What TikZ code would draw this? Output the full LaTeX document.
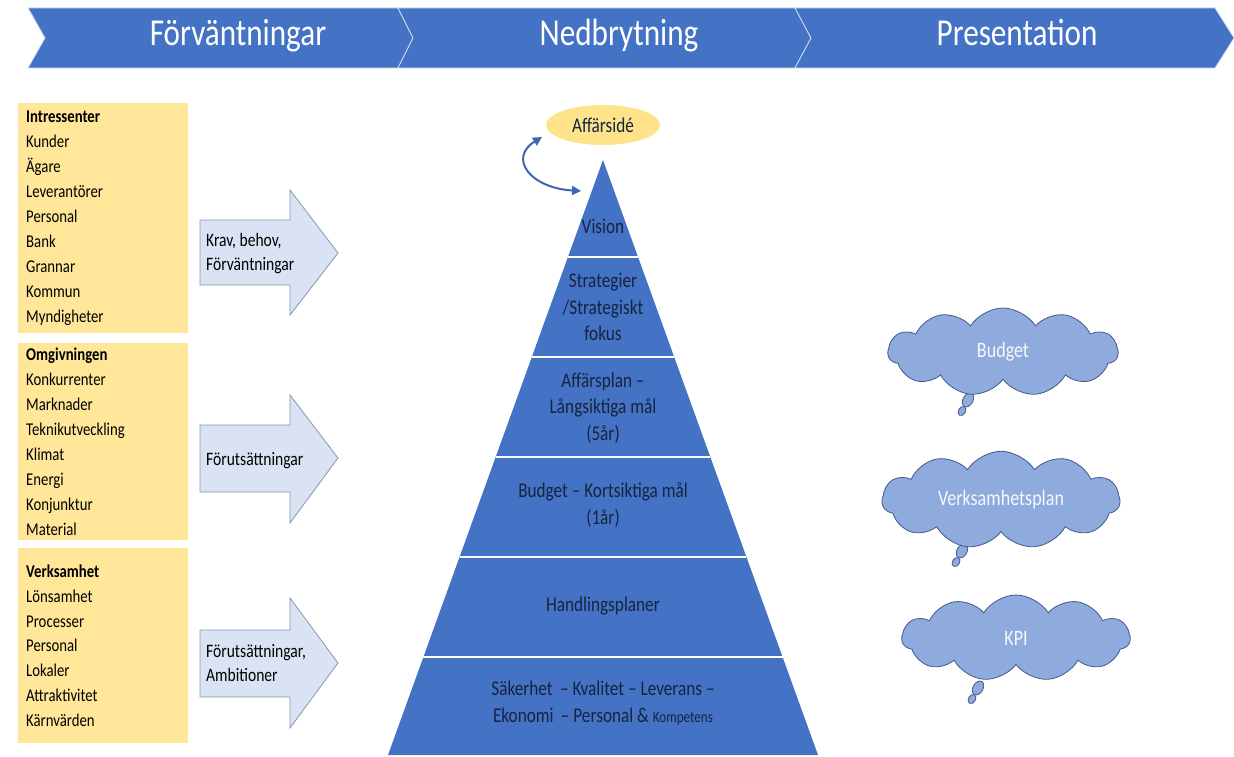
\documentclass[tikz,border=0pt]{standalone}
\usepackage{fontspec}
\setmainfont{Carlito}[FakeStretch=0.82]
\usetikzlibrary{shapes.geometric,shapes.symbols,arrows.meta}

\newlength{\du}
\setlength{\du}{1pt}

\definecolor{rubrikbla}{HTML}{4472C4}
\definecolor{listgul}{HTML}{FFE699}
\definecolor{idegul}{HTML}{FFE38A}
\definecolor{pilfyll}{HTML}{DAE3F3}
\definecolor{pilkant}{HTML}{8497B0}
\definecolor{lagertext}{HTML}{16243F}
\definecolor{molnfyll}{HTML}{8FAADC}
\definecolor{molnkant}{HTML}{41598B}

\tikzset{
  chevron/.style={fill=rubrikbla, draw=white!75!rubrikbla, line width=0.8\du},
  rubrik/.style={text=white, anchor=base, font=\fontsize{38}{40}\selectfont},
  lista/.style={fill=listgul, text width=154\du, align=left, inner xsep=8\du,
    inner ysep=0pt, minimum width=170\du, font=\fontsize{18}{24.9}\selectfont},
  pil/.style={fill=pilfyll, draw=pilkant, line width=0.8\du},
  piltext/.style={anchor=west, align=left, inner sep=0pt,
    font=\fontsize{19}{24}\selectfont},
  lager/.style={text=lagertext, align=center, inner sep=0pt,
    font=\fontsize{21}{26.5}\selectfont},
  moln/.style={cloud, cloud puffs=11, cloud puff arc=115, aspect=2.5,
    inner sep=1\du, fill=molnfyll, draw=molnkant,
    line width=0.8\du, text=white!92!molnfyll, font=\fontsize{22}{26}\selectfont},
  bubbla/.style={ellipse, fill=molnfyll, draw=molnkant, line width=0.8\du,
    inner sep=0pt, rotate=60},
  bage/.style={draw=rubrikbla!90!black, line width=2\du,
    {Triangle[length=9pt,width=9pt]}-{Triangle[length=9pt,width=9pt]}}
}

\begin{document}
\begin{tikzpicture}[x=\du, y=-\du]
\useasboundingbox (0,0) rectangle (1234,757);

% rubrikband
\draw[chevron] (28,8) -- (398,8) -- (413,38) -- (398,68) -- (28,68) -- (45,38) -- cycle;
\draw[chevron] (398,8) -- (795,8) -- (811,38) -- (795,68) -- (398,68) -- (413,38) -- cycle;
\draw[chevron] (795,8) -- (1215,8) -- (1234,38) -- (1215,68) -- (795,68) -- (811,38) -- cycle;
\node[rubrik] (forv) at (238,46) {Förväntningar};
\node[rubrik] (nedbr) at (619,46) {Nedbrytning};
\node[rubrik] (pres) at (1017,46) {Presentation};

% listor
\node[lista, minimum height=230\du, anchor=north west] (intressenter) at (18,103)
  {\textbf{Intressenter}\\Kunder\\Ägare\\Leverantörer\\Personal\\Bank\\Grannar\\Kommun\\Myndigheter};
\node[lista, minimum height=197\du, anchor=north west] (omgivning) at (18,343)
  {\textbf{Omgivningen}\\Konkurrenter\\Marknader\\Teknikutveckling\\Klimat\\Energi\\Konjunktur\\Material};
\node[lista, minimum height=195\du, anchor=north west] (verksamhet) at (18,548)
  {\textbf{Verksamhet}\\Lönsamhet\\Processer\\Personal\\Lokaler\\Attraktivitet\\Kärnvärden};

% pilar
\draw[pil] (200,220) -- ++(90,0) -- ++(0,-30) -- ++(48,63) -- ++(-48,62) -- ++(0,-30) -- ++(-90,0) -- cycle;
\draw[pil] (200,425) -- ++(90,0) -- ++(0,-30) -- ++(48,63) -- ++(-48,65) -- ++(0,-31) -- ++(-90,0) -- cycle;
\draw[pil] (200,630) -- ++(90,0) -- ++(0,-32) -- ++(48,65) -- ++(-48,65) -- ++(0,-31) -- ++(-90,0) -- cycle;
\node[piltext] (krav) at (206,254) {Krav, behov,\\Förväntningar};
\node[piltext] (forut) at (206,461) {Förutsättningar};
\node[piltext] (ambit) at (206,663) {Förutsättningar,\\Ambitioner};

% pyramid
\fill[rubrikbla] (603,160) -- (818,755) -- (388,755) -- cycle;
\draw[white, line width=2.2\du] (567.9,257) -- (638.1,257);
\draw[white, line width=2.2\du] (531.8,357) -- (674.2,357);
\draw[white, line width=2.2\du] (495.7,457) -- (710.3,457);
\draw[white, line width=2.2\du] (459.6,557) -- (746.4,557);
\draw[white, line width=2.2\du] (423.4,657) -- (782.6,657);
\node[lager] (vision) at (603,226) {Vision};
\node[lager] (strategi) at (603,307) {Strategier\\/Strategiskt\\fokus};
\node[lager] (affplan) at (603,408) {Affärsplan –\\Långsiktiga mål\\(5år)};
\node[lager] (budgetlager) at (603,505) {Budget – Kortsiktiga mål\\(1år)};
\node[lager] (handling) at (603,606) {Handlingsplaner};
\node[lager] (sakerhet) at (603,703) {Säkerhet \,– Kvalitet – Leverans –\\Ekonomi \,– Personal \& {\fontsize{16}{26.5}\selectfont Kompetens}};

% affarside
\node[ellipse, fill=idegul, minimum width=114\du, minimum height=40\du, inner sep=0pt,
  text=lagertext, font=\fontsize{21}{24}\selectfont] (ide) at (603,125) {Affärsidé};
\coordinate (idepil) at (542,137);
\coordinate (topppil) at (581,191);
\draw[bage] (idepil) .. controls (508,158) and (530,188) .. (topppil);

% moln
\node[bubbla, minimum width=15\du, minimum height=10\du] (budb1) at (968,400) {};
\node[bubbla, minimum width=10\du, minimum height=7\du] (budb2) at (962,411) {};
\node[moln, minimum width=230\du, minimum height=88\du] (budget) at (1003,352) {Budget};
\node[bubbla, minimum width=15\du, minimum height=10\du] (verb1) at (962,551) {};
\node[bubbla, minimum width=10\du, minimum height=7\du] (verb2) at (956,562) {};
\node[moln, minimum width=238\du, minimum height=95\du] (verksplan) at (1001,500) {Verksamhetsplan};
\node[bubbla, minimum width=15\du, minimum height=10\du] (kpib1) at (978,688) {};
\node[bubbla, minimum width=10\du, minimum height=7\du] (kpib2) at (972,699) {};
\node[moln, minimum width=228\du, minimum height=86\du] (kpi) at (1016,638) {KPI};
\end{tikzpicture}
\end{document}
